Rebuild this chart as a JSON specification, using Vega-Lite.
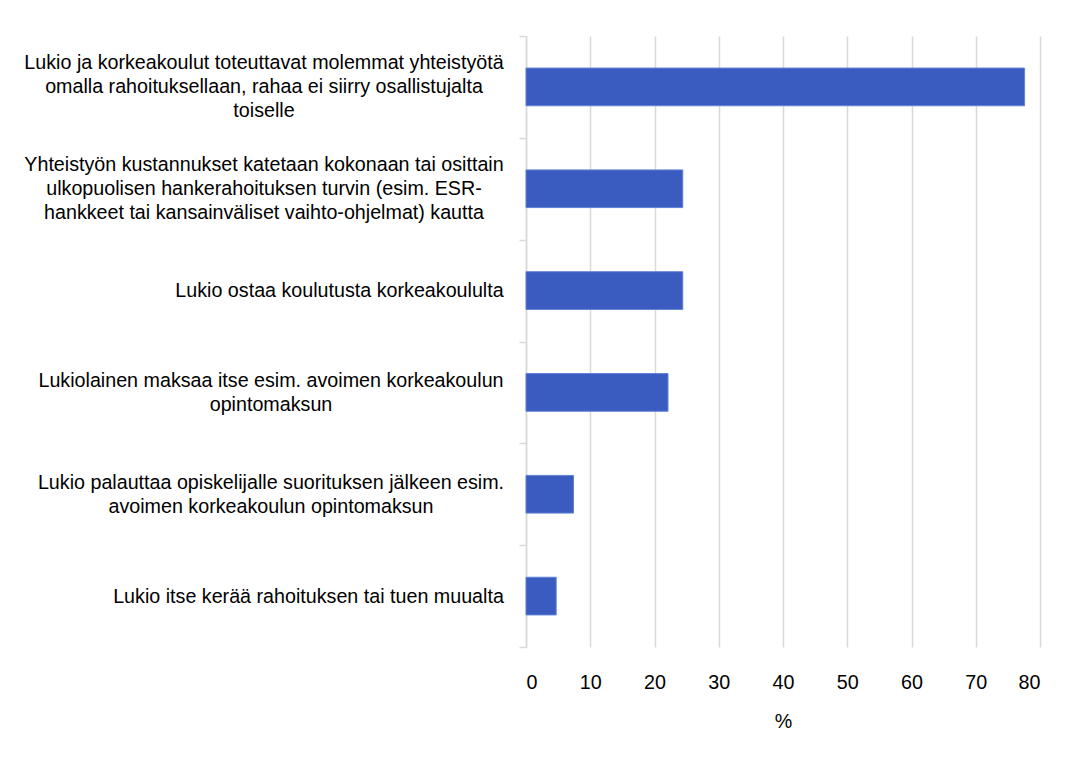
{
  "$schema": "https://vega.github.io/schema/vega-lite/v6.json",
  "width": 514,
  "height": 611,
  "autosize": {"type": "none"},
  "padding": {"left": 526, "top": 36, "right": 30, "bottom": 111},
  "background": "white",
  "data": {
    "values": [
      {"category": "Lukio ja korkeakoulut toteuttavat molemmat yhteistyötä\nomalla rahoituksellaan, rahaa ei siirry osallistujalta\ntoiselle", "percent": 77.6},
      {"category": "Yhteistyön kustannukset katetaan kokonaan tai osittain\nulkopuolisen hankerahoituksen turvin (esim. ESR-\nhankkeet tai kansainväliset vaihto-ohjelmat) kautta", "percent": 24.4},
      {"category": "Lukio ostaa koulutusta korkeakoululta", "percent": 24.4},
      {"category": "Lukiolainen maksaa itse esim. avoimen korkeakoulun\nopintomaksun", "percent": 22.1},
      {"category": "Lukio palauttaa opiskelijalle suorituksen jälkeen esim.\navoimen korkeakoulun opintomaksun", "percent": 7.4},
      {"category": "Lukio itse kerää rahoituksen tai tuen muualta", "percent": 4.7}
    ]
  },
  "mark": {"type": "bar", "color": "#3a5bbf", "stroke": "#6282d6", "strokeWidth": 1, "height": {"band": 0.37}},
  "encoding": {
    "y": {
      "field": "category",
      "type": "nominal",
      "sort": null,
      "scale": {"paddingInner": 0, "paddingOuter": 0},
      "axis": {
        "title": null,
        "labelExpr": "split(datum.label, '\\n')",
        "labelFont": "Liberation Sans",
        "labelFontSize": 19.7,
        "labelColor": "#000000",
        "labelLineHeight": 24,
        "labelLimit": 0,
        "labelAlign": "center",
        "labelBaseline": "middle",
        "labelPadding": {"expr": "!isString(datum.value) ? 0 : indexof(datum.value, 'Lukio ja') == 0 ? 255.5 : indexof(datum.value, 'Yhteisty') == 0 ? 255.5 : indexof(datum.value, 'Lukio ostaa') == 0 ? 180 : indexof(datum.value, 'Lukiolainen') == 0 ? 248.5 : indexof(datum.value, 'Lukio palauttaa') == 0 ? 248.5 : 211"},
        "labelOffset": {"expr": "!isString(datum.value) ? 0 : -(length(split(datum.value, '\\n')) - 1) * 12"},
        "tickBand": "extent",
        "ticks": true,
        "tickSize": 7,
        "tickColor": "#d9d9d9",
        "tickWidth": 1.5,
        "domain": true,
        "domainColor": "#d9d9d9",
        "domainWidth": 1.5,
        "grid": false
      }
    },
    "x": {
      "field": "percent",
      "type": "quantitative",
      "scale": {"domain": [0, 80], "nice": false},
      "axis": {
        "title": "%",
        "values": [0, 10, 20, 30, 40, 50, 60, 70, 80],
        "grid": true,
        "gridColor": "#d9d9d9",
        "gridWidth": 1.5,
        "domain": false,
        "ticks": false,
        "labelFont": "Liberation Sans",
        "labelFontSize": 19.7,
        "labelColor": "#000000",
        "labelPadding": 25,
        "titleFont": "Liberation Sans",
        "titleFontSize": 19.7,
        "titleFontWeight": "normal",
        "titleColor": "#000000",
        "titlePadding": 20
      }
    }
  },
  "config": {"view": {"stroke": null}}
}
